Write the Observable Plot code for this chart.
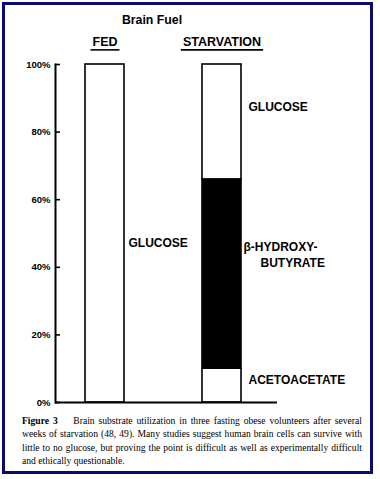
<!DOCTYPE html>
<html>
<head>
<meta charset="utf-8">
<script src="https://cdn.jsdelivr.net/npm/d3@7"></script>
<script src="https://cdn.jsdelivr.net/npm/@observablehq/plot@0.6"></script>
<style>
  html, body { margin: 0; padding: 0; background: #fff; }
  #wrap { position: relative; width: 380px; height: 479px; overflow: hidden; background: #fff; }
  #chart { position: absolute; left: 0; top: 0; }
  #title { position: absolute; left: 0; top: 13px; width: 304px; text-align: center;
    font: bold 12.3px "Liberation Sans", Arial, sans-serif; color: #000; }
  #caption { position: absolute; left: 22px; top: 414px; width: 340px;
    font: 9.6px "Liberation Serif", "Times New Roman", serif; line-height: 13.3px; color: #000; }
  #caption div { text-align: justify; text-align-last: justify; white-space: nowrap; }
  #caption div.last { text-align-last: left; }
  #frame { position: absolute; left: 2px; top: 2px; width: 365px; height: 466px;
    border: 3px solid #0b0b6e; pointer-events: none; }
</style>
</head>
<body>
<div id="wrap">
  <div id="chart"></div>
  <div id="title">Brain Fuel</div>
  <div id="caption">
    <div><b>Figure 3</b>&nbsp;&nbsp;&nbsp; Brain substrate utilization in three fasting obese volunteers after several</div>
    <div>weeks of starvation (48, 49). Many studies suggest human brain cells can survive with</div>
    <div>little to no glucose, but proving the point is difficult as well as experimentally difficult</div>
    <div class="last">and ethically questionable.</div>
  </div>
  <div id="frame"></div>
</div>
<script>
const categories = ["FED", "STARVATION"];
const fuels = ["ACETOACETATE", "β-HYDROXYBUTYRATE", "GLUCOSE"];
const fedValues = [0, 0, 100];
const starvationValues = [10, 56, 34];
const yTicks = [0, 20, 40, 60, 80, 100];

const valuesByCat = {FED: fedValues, STARVATION: starvationValues};
const rows = [];
categories.forEach(c => {
  let base = 0;
  fuels.forEach((f, j) => {
    const v = valuesByCat[c][j];
    if (v > 0) {
      rows.push({cat: c, fuel: f, value: v, y1: base, y2: base + v, mid: base + v / 2});
      base += v;
    }
  });
});
const pick = (c, f) => rows.filter(r => r.cat === c && r.fuel === f);

const labelStyle = {x: "cat", y: "mid", textAnchor: "start", fontSize: 12, fontWeight: "bold", fill: "#000"};

const plot = Plot.plot({
  width: 380,
  height: 412,
  marginTop: 64,
  marginBottom: 10,
  marginLeft: 55,
  marginRight: 103,
  style: {fontFamily: '"Liberation Sans", Arial, sans-serif', fontWeight: "bold", background: "transparent", color: "#000"},
  x: {domain: categories, range: [55.75, 270.25], paddingInner: 0.6667, paddingOuter: 0.25, axis: null},
  y: {domain: [0, 100], axis: null},
  color: {domain: fuels, range: ["white", "black", "white"]},
  marks: [
    Plot.barY(rows, {x: "cat", y1: "y1", y2: "y2", fill: "fuel", stroke: "black", strokeWidth: 1.6}),
    Plot.axisY({ticks: yTicks, tickFormat: d => d + "%", tickSize: 0, tickPadding: 5, fontSize: 9.5, fontWeight: "bold", label: null}),
    Plot.ruleY(yTicks, {y: d => d, insetRight: 217, strokeWidth: 1.6}),
    Plot.ruleY([0], {strokeWidth: 2}),
    Plot.frame({anchor: "left", strokeWidth: 2}),
    Plot.text(categories, {x: d => d, text: d => d, frameAnchor: "top", dy: -27, fontSize: 12.5, fontWeight: "bold"}),
    Plot.text(pick("FED", "GLUCOSE"), {...labelStyle, text: () => "GLUCOSE", dx: 23.5, dy: 10}),
    Plot.text(pick("STARVATION", "GLUCOSE"), {...labelStyle, text: () => "GLUCOSE", dx: 26.5, dy: -14.5}),
    Plot.text(pick("STARVATION", "β-HYDROXYBUTYRATE"), {...labelStyle, text: () => "β-HYDROXY-", dx: 21.5, dy: -26.6}),
    Plot.text(pick("STARVATION", "β-HYDROXYBUTYRATE"), {...labelStyle, text: () => "BUTYRATE", dx: 38.5, dy: -10.6}),
    Plot.text(pick("STARVATION", "ACETOACETATE"), {...labelStyle, text: () => "ACETOACETATE", dx: 26.5, dy: -5})
  ]
});
document.getElementById("chart").appendChild(plot);
// underline the column headers
plot.querySelectorAll("text").forEach(t => {
  if (!categories.includes(t.textContent.trim())) return;
  const b = t.getBBox();
  const x0 = b.x - 2, x1 = b.x + b.width + 2;
  const yy = b.y + b.height + 0.5;
  const line = document.createElementNS("http://www.w3.org/2000/svg", "line");
  line.setAttribute("x1", x0); line.setAttribute("x2", x1);
  line.setAttribute("y1", yy); line.setAttribute("y2", yy);
  if (t.getAttribute("transform")) line.setAttribute("transform", t.getAttribute("transform"));
  line.setAttribute("stroke", "#000"); line.setAttribute("stroke-width", 1.6);
  t.parentNode.appendChild(line);
});
</script>
</body>
</html>
